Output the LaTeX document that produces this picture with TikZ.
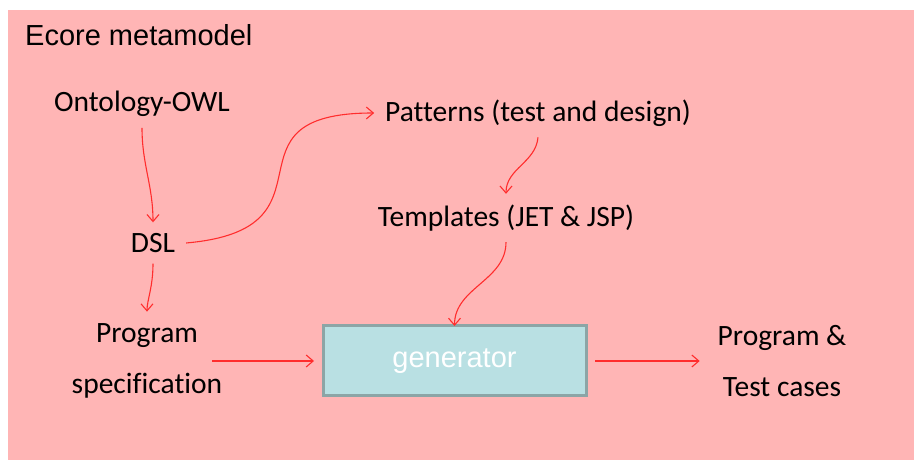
\documentclass[tikz,border=0pt]{standalone}
\usepackage{fontspec}
\setmainfont{Carlito}[Ligatures=NoCommon]
\newfontfamily\arialf{Liberation Sans}
\usetikzlibrary{arrows.meta}
\definecolor{bgpink}{RGB}{255,181,181}
\definecolor{arrred}{RGB}{255,45,45}
\definecolor{genfill}{RGB}{185,224,227}
\definecolor{genborder}{RGB}{140,165,166}
\tikzset{
  lbl/.style={inner sep=0pt, outer sep=11pt, font=\fontsize{29.5}{35}\selectfont, text=black},
  twoline/.style={inner sep=0pt, outer sep=0pt, align=center, font=\fontsize{29.5}{51}\selectfont, text=black},
  conn/.style={draw=arrred, line width=1.1pt, -{Straight Barb[length=7pt,width=12pt]}},
  genbox/.style={draw=genborder, fill=genfill, line width=3pt, minimum width=263pt, minimum height=70pt, inner sep=0pt, outer sep=0pt, font=\arialf\fontsize{29}{34}\selectfont, text=white}
}
\begin{document}
\begin{tikzpicture}[x=1pt,y=1pt]
\useasboundingbox (0,0) rectangle (914,460);
\fill[white] (0,0) rectangle (914,460);
\fill[bgpink] (8,0) rectangle (914,450);
\node[anchor=west, inner sep=0pt, font=\arialf\fontsize{29}{34}\selectfont] (ecore) at (25,425) {Ecore metamodel};
\node[lbl] (owl) at (142,356) {Ontology-OWL};
\node[lbl] (dsl) at (153,217) {DSL};
\node[lbl] (pat) at (538,347) {Patterns (test and design)};
\node[lbl] (tpl) at (506,242) {Templates (JET \& JSP)};
\node[genbox] (gen) at (454.5,99) {generator};
\node[twoline] (prog) at (147,99) {Program\\specification};
\node[twoline] (out) at (782,99) {Program \&\\Test cases};
\draw[conn] (owl.south) to[out=-90,in=90] (dsl.north);
\draw[conn] (dsl.east) to[out=5,in=180,looseness=1.8] (pat.west);
\draw[conn] (pat.south) to[out=-95,in=90] (tpl.north);
\draw[conn] (tpl.south) to[out=-90,in=90] (gen.north);
\draw[conn, shorten >=12pt] (dsl.south) to[out=-90,in=90] (prog.north);
\draw[conn, shorten >=9pt] ([xshift=-10pt]prog.east) -- (gen.west);
\draw[conn, shorten <=9pt, shorten >=18pt] (gen.east) -- (out.west);
\end{tikzpicture}
\end{document}
